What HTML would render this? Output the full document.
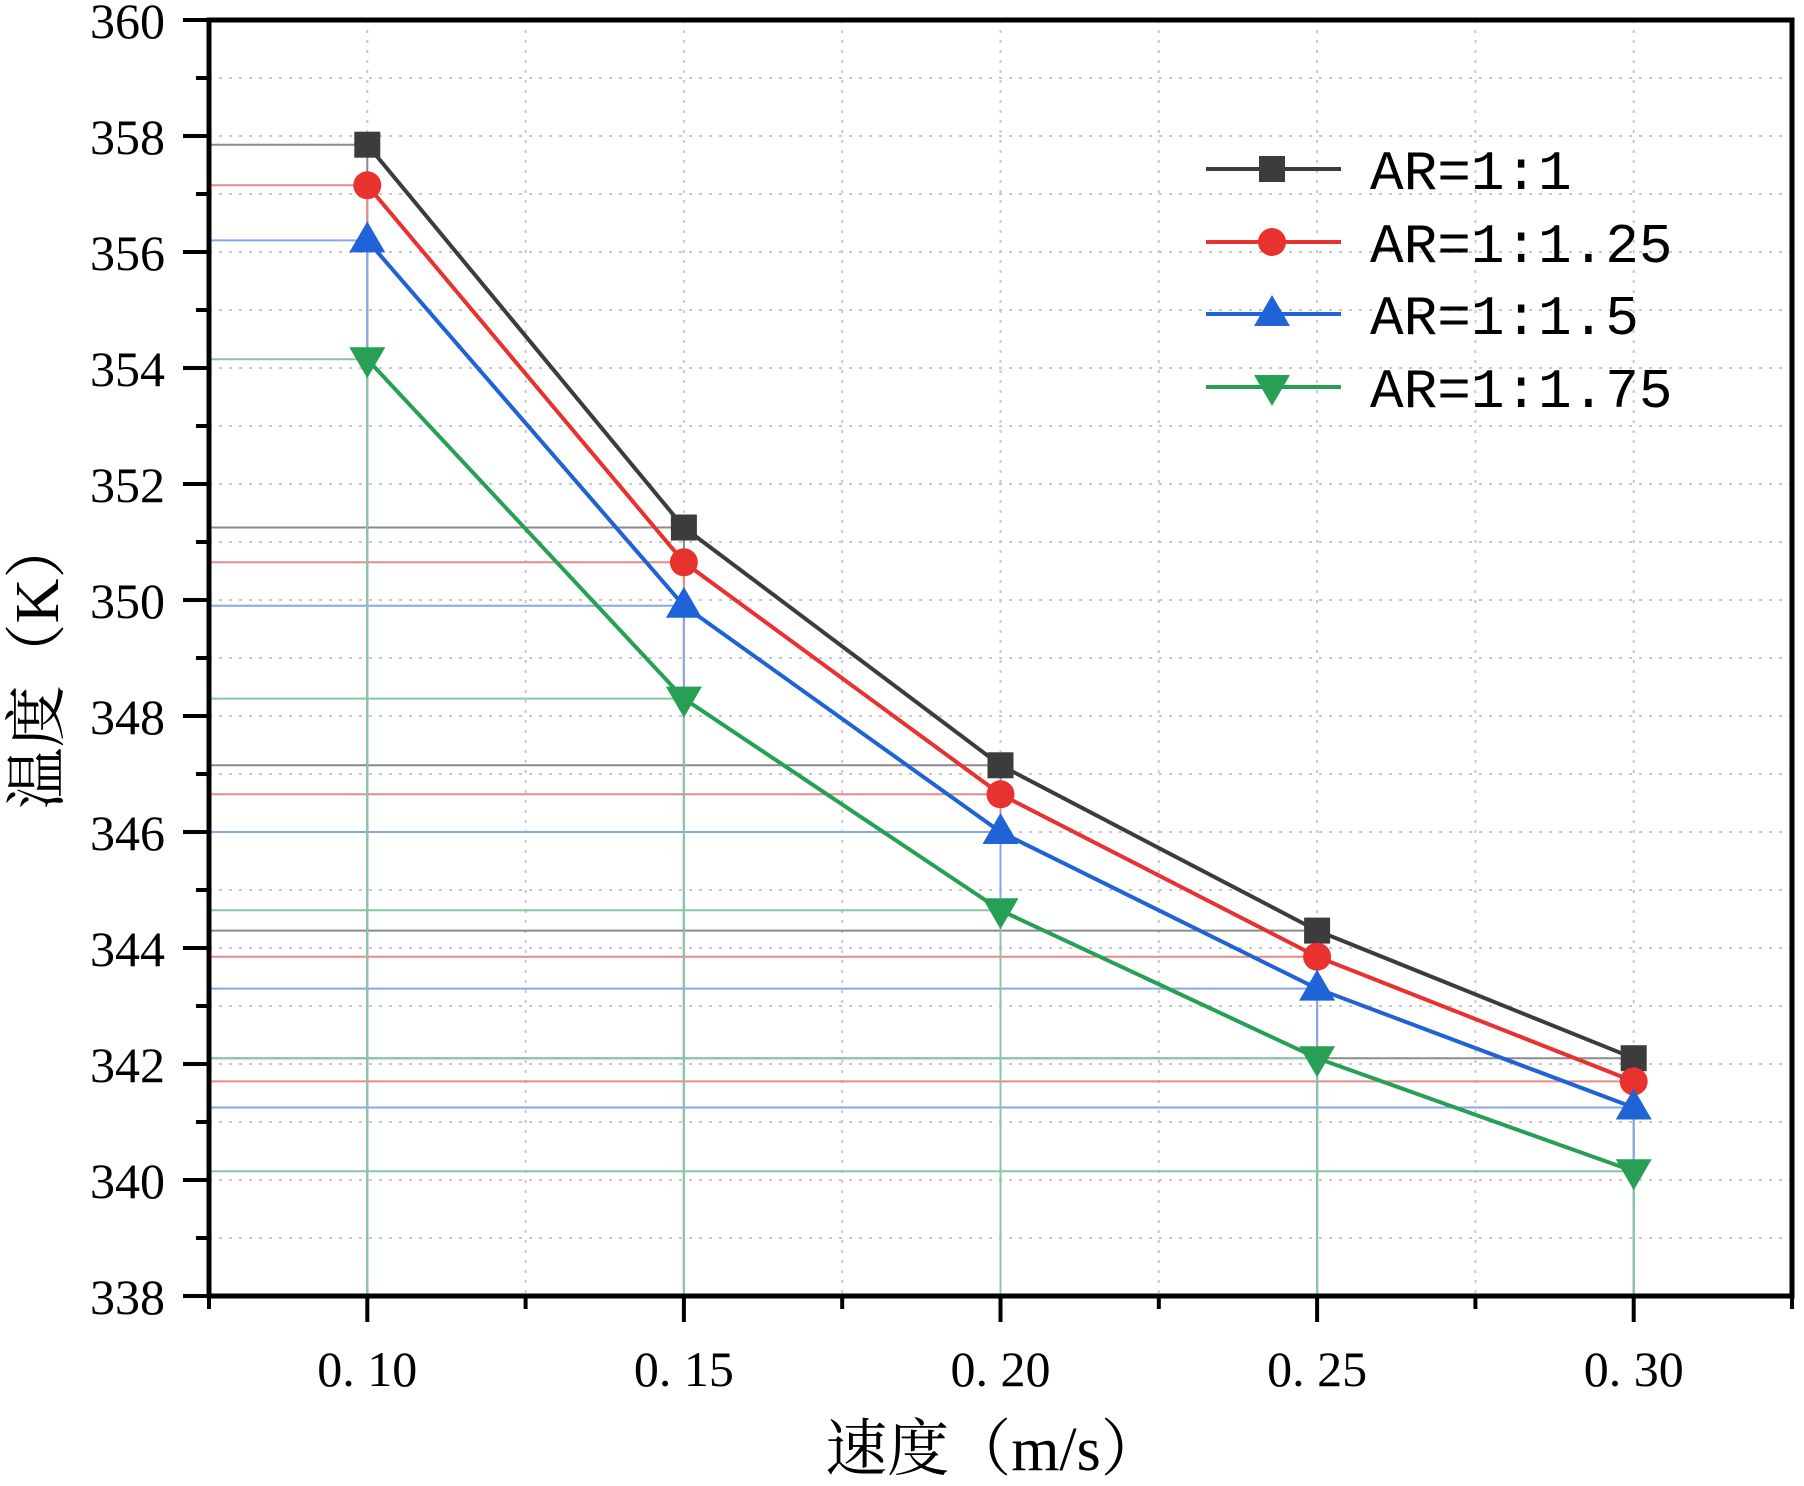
<!DOCTYPE html>
<html><head><meta charset="utf-8"><style>
html,body{margin:0;padding:0;background:#fff;}
svg{display:block;}
</style></head><body>
<svg id="chart" width="1804" height="1486" viewBox="0 0 1804 1486" xmlns="http://www.w3.org/2000/svg">
<g id="grid"></g>
<g id="drops"></g>
<g id="series"></g>
<g id="axes"></g>
<g id="legend"></g>
<text x="994" y="1470" text-anchor="middle" font-size="62" font-family="'Liberation Serif','Noto Serif CJK SC',serif">速度（m/s）</text>
<text transform="translate(58,663) rotate(-90)" text-anchor="middle" font-size="62" font-family="'Liberation Serif','Noto Serif CJK SC',serif">温度（K）</text>
</svg>
<script>
const categories = [0.10, 0.15, 0.20, 0.25, 0.30];
const xTickLabels = ["0. 10", "0. 15", "0. 20", "0. 25", "0. 30"];
const yTickValues = [338, 340, 342, 344, 346, 348, 350, 352, 354, 356, 358, 360];
const seriesNames = ["AR=1:1", "AR=1:1.25", "AR=1:1.5", "AR=1:1.75"];
const s11 = [357.85, 351.25, 347.15, 344.3, 342.1];
const s125 = [357.15, 350.65, 346.65, 343.85, 341.7];
const s15 = [356.2, 349.9, 346.0, 343.3, 341.25];
const s175 = [354.15, 348.3, 344.65, 342.1, 340.15];

const L=209,R=1792,T=20,B=1296;
const X0=0.075,X1=0.325,Y0=338,Y1=360;
const xs=v=>L+(v-X0)/(X1-X0)*(R-L);
const ys=v=>B-(v-Y0)/(Y1-Y0)*(B-T);
const NS="http://www.w3.org/2000/svg";
function mk(tag,attrs,parent){const e=document.createElementNS(NS,tag);for(const k in attrs)e.setAttribute(k,attrs[k]);parent.appendChild(e);return e;}
const grid=document.getElementById('grid'),drops=document.getElementById('drops'),ser=document.getElementById('series'),axes=document.getElementById('axes'),leg=document.getElementById('legend');

for(let v=Y0+1;v<Y1;v++){const g=mk('line',{x1:L,x2:R,y1:ys(v),y2:ys(v),stroke:'#c8c8c8','stroke-width':2,'stroke-dasharray':'3 7'},grid);

}
for(let i=1;i<10;i++){const v=X0+i*0.025;const g=mk('line',{x1:xs(v),x2:xs(v),y1:T,y2:B,stroke:'#c8c8c8','stroke-width':2,'stroke-dasharray':'3 7'},grid);

}

const styles=[
 {c:'#3c3c3c',d:'#8a8a8a',m:'square'},
 {c:'#e8322f',d:'#e88a88',m:'circle'},
 {c:'#1f63d6',d:'#86a8e8',m:'up'},
 {c:'#27a056',d:'#86c8a0',m:'down'}];
const allSeries=[s11,s125,s15,s175];
const names=['series-ar-1-1','series-ar-1-1.25','series-ar-1-1.5','series-ar-1-1.75'];

function marker(type,x,y,col,parent){
 let e;
 if(type==='square') e=mk('rect',{x:x-13,y:y-13,width:26,height:26,fill:col},parent);
 else if(type==='circle') e=mk('circle',{cx:x,cy:y,r:14,fill:col},parent);
 else if(type==='up') e=mk('polygon',{points:`${x},${y-19} ${x+18},${y+12} ${x-18},${y+12}`,fill:col},parent);
 else e=mk('polygon',{points:`${x},${y+19} ${x+18},${y-12} ${x-18},${y-12}`,fill:col},parent);
 return e;
}

allSeries.forEach((s,si)=>{
 s.forEach((v,i)=>{
  const h=mk('line',{x1:L,x2:xs(categories[i]),y1:ys(v),y2:ys(v),stroke:styles[si].d,'stroke-width':2},drops);
  
  
  const vv=mk('line',{x1:xs(categories[i]),x2:xs(categories[i]),y1:ys(v),y2:B,stroke:styles[si].d,'stroke-width':2},drops);
  
  
 });
});
allSeries.forEach((s,si)=>{
 const g=mk('g',{},ser);
 
 
 const pl=mk('polyline',{points:s.map((v,i)=>xs(categories[i])+','+ys(v)).join(' '),fill:'none',stroke:styles[si].c,'stroke-width':4},g);
 
 
 s.forEach((v,i)=>{const m=marker(styles[si].m,xs(categories[i]),ys(v),styles[si].c,g);
  
  });
});

const fr=mk('rect',{x:L,y:T,width:R-L,height:B-T,fill:'none',stroke:'#000','stroke-width':5},axes);


for(let v=Y0;v<=Y1;v++){
 const major=(v%2===0);
 const t=mk('line',{x1:L-(major?26:13),x2:L,y1:ys(v),y2:ys(v),stroke:'#000','stroke-width':4},axes);
 
 
}
yTickValues.forEach(v=>{
 const t=mk('text',{x:165,y:ys(v)+18,'text-anchor':'end','font-size':50,'font-family':"'Liberation Serif',serif"},axes);
 t.textContent=v;
 
 
});
for(let i=0;i<=10;i++){
 const v=X0+i*0.025;const major=(i%2===1);
 const t=mk('line',{x1:xs(v),x2:xs(v),y1:B,y2:B+(major?26:13),stroke:'#000','stroke-width':4},axes);
 
 
}
categories.forEach((c,i)=>{
 const t=mk('text',{x:xs(c),y:1386,'text-anchor':'middle','font-size':50,'font-family':"'Liberation Serif',serif"},axes);
 t.textContent=xTickLabels[i];
 
 
});

const rows=[169,242,314,387];
seriesNames.forEach((n,i)=>{
 const g=mk('g',{},leg);
 
 
 mk('line',{x1:1206,x2:1341,y1:rows[i],y2:rows[i],stroke:styles[i].c,'stroke-width':4},g);
 marker(styles[i].m,1272,rows[i],styles[i].c,g);
 const t=mk('text',{x:1370,y:rows[i]+20,'font-size':56,'font-family':"'Liberation Mono',monospace"},g);
 t.textContent=n;
});
</script>
</body></html>
